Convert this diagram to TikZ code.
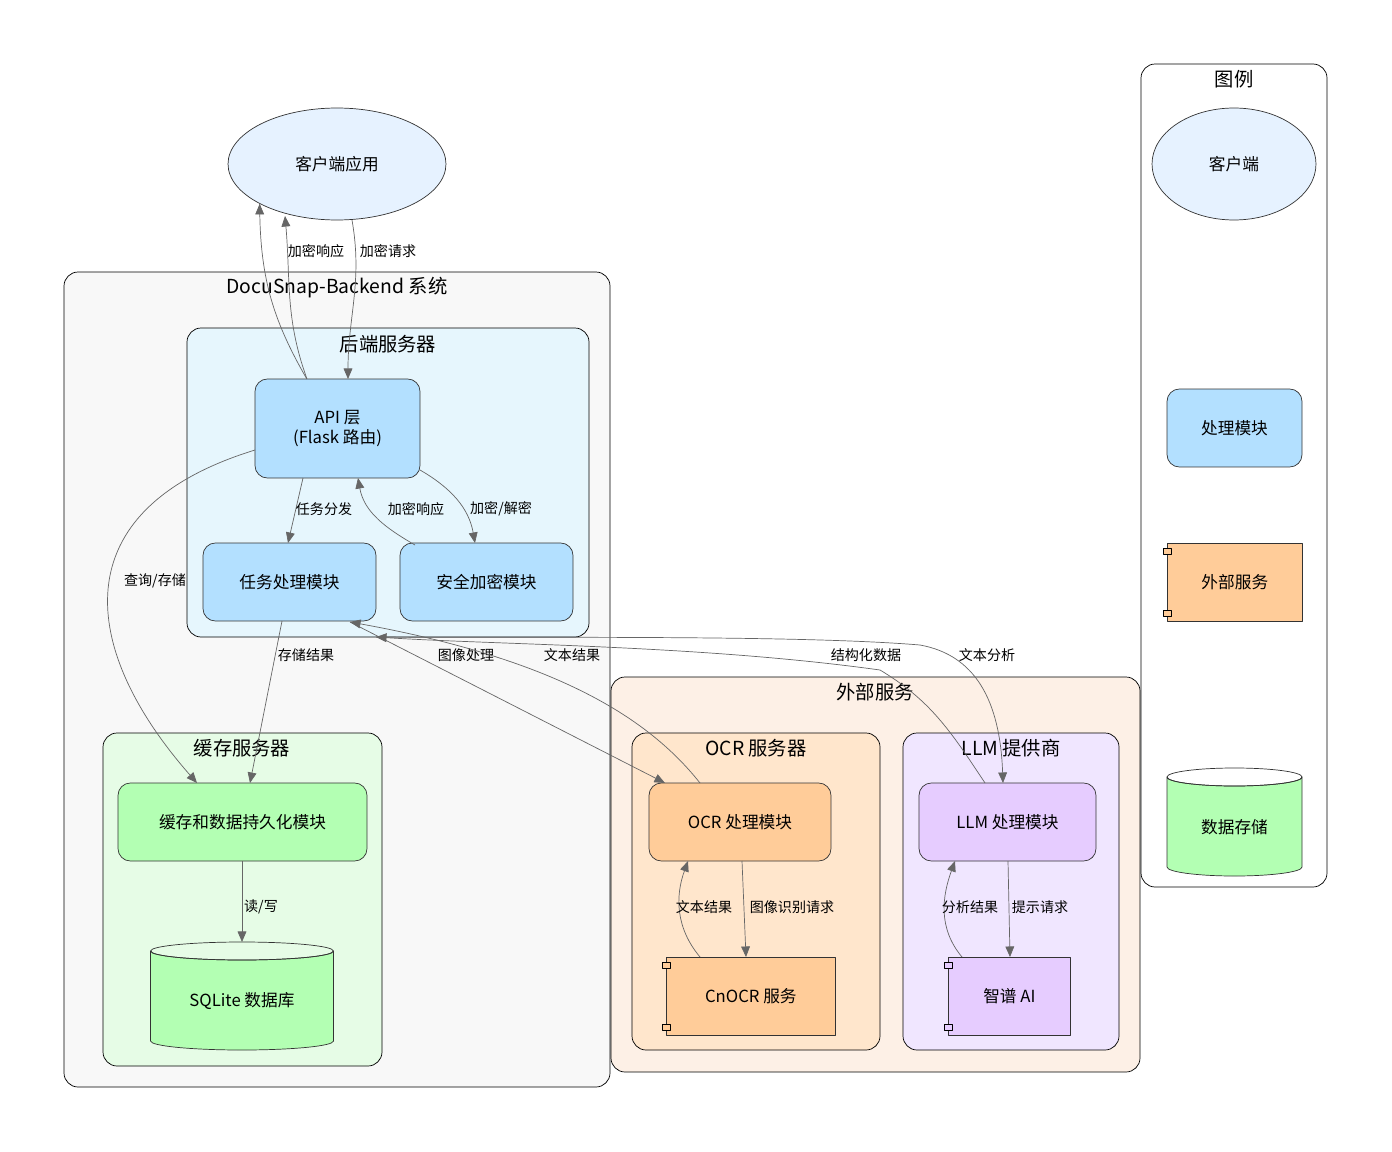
\documentclass[tikz,border=0pt]{standalone}
\usepackage{fontspec}
\setmainfont{Noto Sans CJK SC}
\usetikzlibrary{arrows.meta,shapes.geometric}
\definecolor{clientfill}{HTML}{E6F2FF}
\definecolor{procfill}{HTML}{B3E0FF}
\definecolor{backfill}{HTML}{E6F6FD}
\definecolor{sysfill}{HTML}{F8F8F8}
\definecolor{cachefill}{HTML}{E6FCE6}
\definecolor{dbfill}{HTML}{B3FFB3}
\definecolor{extfill}{HTML}{FDF0E6}
\definecolor{ocrcl}{HTML}{FFE6CC}
\definecolor{ocrfill}{HTML}{FFCC99}
\definecolor{llmcl}{HTML}{F0E6FF}
\definecolor{llmfill}{HTML}{E6CCFF}
\definecolor{edgegray}{HTML}{666666}
\tikzset{
  cluster/.style={draw=black, rounded corners=8pt},
  ctitle/.style={font=\fontsize{11}{13}\selectfont},
  proc/.style={draw=black!80, rounded corners=7pt, align=center, font=\fontsize{9.5}{11}\selectfont},
  comp/.style={draw=black!80, align=center, font=\fontsize{9.5}{11}\selectfont},
  link/.style={draw=edgegray, -{Triangle[length=6pt,width=5pt]}, fill=none},
  lbl/.style={font=\fontsize{8}{9}\selectfont, inner sep=1pt}
}
% component box: name, x1, y1, x2, y2, fill, text
\newcommand{\compbox}[7]{%
  \node[comp, fill=#6, minimum width=#4*0.02cm-#2*0.02cm, minimum height=#5*0.02cm-#3*0.02cm, anchor=north west] (#1) at (#2,#3) {#7};
  \draw[fill=#6] (#2-4,#3+5) rectangle (#2+4,#3+11);
  \draw[fill=#6] (#2-4,#5-11) rectangle (#2+4,#5-5);
}
% cylinder: name, cx, top y, w, h, text
\newcommand{\dbcyl}[6]{%
  \draw[fill=dbfill, draw=black!80] (#2-#4/2,#3+9) -- (#2-#4/2,#3+#5-9) arc[start angle=180, end angle=360, x radius=#4/2*0.02cm, y radius=9*0.02cm] -- (#2+#4/2,#3+9) arc[start angle=0, end angle=-180, x radius=#4/2*0.02cm, y radius=9*0.02cm] -- cycle;
  \draw[draw=black!80] (#2-#4/2,#3+9) arc[start angle=180, end angle=540, x radius=#4/2*0.02cm, y radius=9*0.02cm];
  \node[minimum width=#4*0.02cm, minimum height=#5*0.02cm, font=\fontsize{9.5}{11}\selectfont] (#1) at (#2,#3+#5/2+5) {#6};
}
\begin{document}
\begin{tikzpicture}[x=0.02cm, y=-0.02cm, line join=round]
\useasboundingbox (0,0) rectangle (1392,1152);
% clusters
\draw[cluster, fill=sysfill] (64,272) rectangle (610,1087);
\node[ctitle] at (337,288) {DocuSnap-Backend 系统};
\draw[cluster, fill=backfill] (187,328) rectangle (589,637);
\node[ctitle] at (388,344) {后端服务器};
\draw[cluster, fill=cachefill] (103,733) rectangle (382,1066);
\node[ctitle] at (242,748) {缓存服务器};
\draw[cluster, fill=extfill] (611,677) rectangle (1140,1072);
\node[ctitle] at (875,692) {外部服务};
\draw[cluster, fill=ocrcl] (632,733) rectangle (880,1050);
\node[ctitle] at (756,748) {OCR 服务器};
\draw[cluster, fill=llmcl] (903,733) rectangle (1119,1050);
\node[ctitle] at (1011,748) {LLM 提供商};
\draw[cluster, fill=white] (1141,64) rectangle (1327,887);
\node[ctitle] at (1234,79) {图例};

% nodes
\node[ellipse, draw=black!80, fill=clientfill, minimum width=4.36cm, minimum height=2.24cm, font=\fontsize{9.5}{11}\selectfont] (client) at (337,164) {客户端应用};
\node[proc, fill=procfill, minimum width=3.3cm, minimum height=1.98cm] (api) at (337.5,428.5) {API 层\\(Flask 路由)};
\node[proc, fill=procfill, minimum width=3.46cm, minimum height=1.56cm] (task) at (289.5,582) {任务处理模块};
\node[proc, fill=procfill, minimum width=3.46cm, minimum height=1.56cm] (sec) at (486.5,582) {安全加密模块};
\node[proc, fill=dbfill, minimum width=4.98cm, minimum height=1.56cm] (cache) at (242.5,822) {缓存和数据持久化模块};
\dbcyl{sqlite}{242}{942}{183}{108}{SQLite 数据库}
\node[proc, fill=ocrfill, minimum width=3.64cm, minimum height=1.56cm] (ocr) at (740,822) {OCR 处理模块};
\compbox{cnocr}{666}{957}{835}{1035}{ocrfill}{CnOCR 服务}
\node[proc, fill=llmfill, minimum width=3.54cm, minimum height=1.56cm] (llm) at (1007.5,822) {LLM 处理模块};
\compbox{zhipu}{948}{957}{1070}{1035}{llmfill}{智谱 AI}

% legend
\node[ellipse, draw=black!80, fill=clientfill, minimum width=3.28cm, minimum height=2.24cm, font=\fontsize{9.5}{11}\selectfont] (lgclient) at (1234,164) {客户端};
\node[proc, fill=procfill, minimum width=2.7cm, minimum height=1.56cm] (lgproc) at (1234.5,428) {处理模块};
\compbox{lgext}{1167}{543}{1302}{621}{ocrfill}{外部服务}
\dbcyl{lgdb}{1234.5}{768}{135}{108}{数据存储}

% connectors
\draw[link] (api.north west)++(52,0) to[bend left=15] node[lbl, pos=0.83, right=-1pt, fill=white, fill opacity=0, text opacity=1] {} (client.south west)++(0,0);
\draw[link] (307,379) to[out=110, in=-85] (285,216);
\node[lbl] at (316,251) {加密响应};
\draw[link] (352,220) to[out=-80, in=90] (348,379);
\node[lbl] at (388,251) {加密请求};
\draw[link] (303,478) -- (288,543);
\node[lbl] at (324,509) {任务分发};
\draw[link] (415,545) to[out=150, in=-80] (358,478);
\node[lbl] at (416,509) {加密响应};
\draw[link] (420,470) to[out=-30, in=100] (475,543);
\node[lbl] at (501,509) {加密/解密};
\draw[link] (255,450) .. controls (60,510) and (80,650) .. (197,783);
\node[lbl] at (155,581) {查询/存储};
\draw[link] (282,621) -- (250,783);
\node[lbl] at (306,655) {存储结果};
\draw[link] (350,622) -- (665,783);
\node[lbl] at (466,655) {图像处理};
\draw[link] (700,783) .. controls (650,720) and (560,660) .. (350,622);
\node[lbl] at (572,655) {文本结果};
\draw[link] (985,783) .. controls (950,730) and (930,700) .. (880,670) .. controls (700,645) and (500,645) .. (376,637);
\node[lbl] at (866,655) {结构化数据};
\draw[link] (376,637) .. controls (550,638) and (800,635) .. (920,645) .. controls (975,655) and (1000,700) .. (1003,783);
\node[lbl] at (987,655) {文本分析};
\draw[link] (242,861) -- (242,942);
\node[lbl] at (261,907) {读/写};
\draw[link] (742,861) -- (746,957);
\node[lbl] at (792,907) {图像识别请求};
\draw[link] (700,957) to[out=130, in=-110] (688,861);
\node[lbl] at (704,907) {文本结果};
\draw[link] (1008,861) -- (1010,957);
\node[lbl] at (1040,907) {提示请求};
\draw[link] (962,957) to[out=130, in=-110] (955,861);
\node[lbl] at (970,907) {分析结果};
\end{tikzpicture}
\end{document}
